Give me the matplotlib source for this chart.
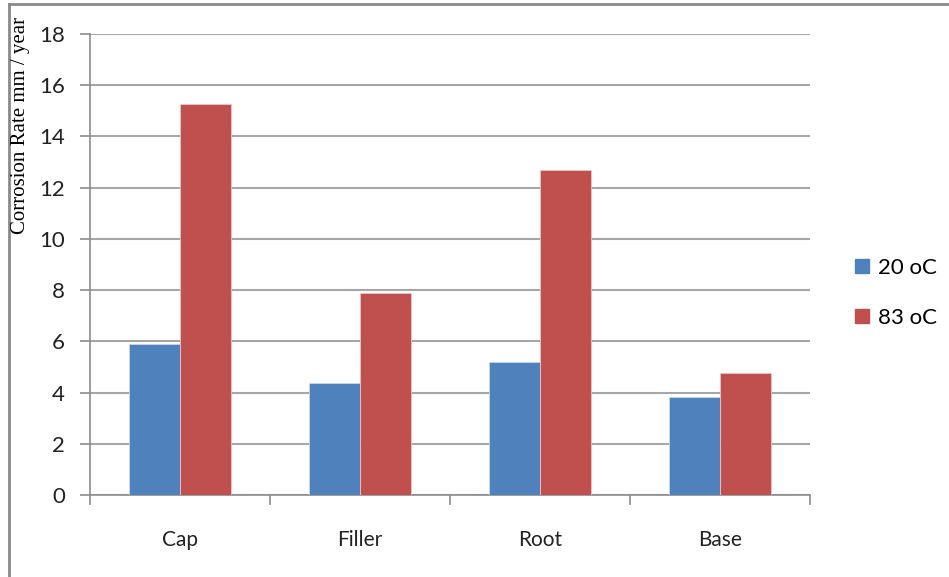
import matplotlib
matplotlib.use("Agg")
import matplotlib.pyplot as plt
from matplotlib.lines import Line2D
import numpy as np

categories = ["Cap", "Filler", "Root", "Base"]
series_names = ["20 oC", "83 oC"]
rate_20 = [5.88, 4.37, 5.18, 3.82]
rate_83 = [15.26, 7.88, 12.70, 4.78]
y_ticks = [0, 2, 4, 6, 8, 10, 12, 14, 16, 18]

blue = "#4F81BD"
red = "#C0504D"
grid_c = "#A6A6A6"
axis_c = "#8C8C8C"
sans = ["Lato", "DejaVu Sans"]

W, H = 949, 577
fig = plt.figure(figsize=(W / 100, H / 100), dpi=100)
ax = fig.add_axes([90 / W, 1 - 495 / H, 720 / W, 461 / H])

x = np.arange(len(categories))
bw = 1 / 3.5
ax.bar(x - bw / 2, rate_20, bw, color=blue, edgecolor="#C9D7EA", linewidth=0.6,
       label=series_names[0], zorder=3)
ax.bar(x + bw / 2, rate_83, bw, color=red, edgecolor="#EBC6C5", linewidth=0.6,
       label=series_names[1], zorder=3)

ax.set_xlim(-0.5, len(categories) - 0.5)
ax.set_ylim(0, 18)
ax.set_yticks(y_ticks)
ax.yaxis.grid(True, color=grid_c, linewidth=1.5, zorder=0)
ax.set_axisbelow(True)

for s in ["top", "right"]:
    ax.spines[s].set_visible(False)
ax.spines["left"].set_color(axis_c)
ax.spines["bottom"].set_color(axis_c)
ax.spines["left"].set_linewidth(1.2)
ax.spines["bottom"].set_linewidth(1.2)

ax.set_xticks(x)
ax.set_xticklabels(categories, fontfamily=sans, fontsize=15, color="#222222")
ax.tick_params(axis="x", length=0, pad=25)
ax.set_xticks(np.arange(-0.5, len(categories), 1), minor=True)
ax.tick_params(axis="x", which="minor", length=7, color=axis_c, width=1.2)
ax.tick_params(axis="y", length=7, color=axis_c, width=1.2, pad=11)
for lab in ax.get_yticklabels():
    lab.set_fontfamily(sans)
    lab.set_fontsize(16)
    lab.set_color("#222222")

fig.text(21 / W, 1 - 125 / H, "Corrosion Rate mm / year", rotation=90,
         ha="center", va="center", fontfamily="Liberation Serif", fontsize=15)

leg = fig.legend(handles=[
    Line2D([], [], marker="s", linestyle="none", markersize=10.5, color=blue),
    Line2D([], [], marker="s", linestyle="none", markersize=10.5, color=red)],
    labels=series_names, loc="center left", bbox_to_anchor=(830 / W, 1 - 293 / H),
    frameon=False, prop={"family": sans, "size": 16}, handletextpad=0.15,
    labelspacing=1.35, handlelength=1.1)

# outer chart frame (top and left edges)
fig.add_artist(Line2D([9 / W, 1], [1 - 4 / H, 1 - 4 / H], color="#8A8A8A", linewidth=2))
fig.add_artist(Line2D([9 / W, 9 / W], [0, 1 - 4 / H], color="#8A8A8A", linewidth=2))

fig.savefig("out.png", dpi=100, facecolor="white")
